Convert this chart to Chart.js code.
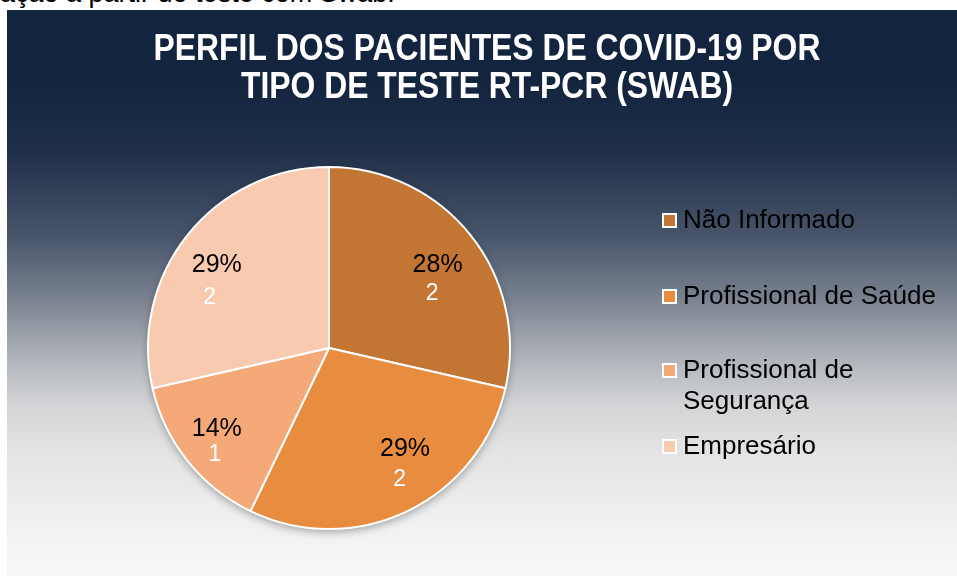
<!DOCTYPE html>
<html>
<head>
<meta charset="utf-8">
<script src="https://cdn.jsdelivr.net/npm/chart.js@4"></script>
<style>
  body { margin: 0; width: 957px; height: 576px; background: #fff; overflow: hidden; position: relative; font-family: "Liberation Sans", Arial, sans-serif; }
  #textoAcima { position: absolute; left: 0; top: -20px; font-size: 27px; line-height: 27px; color: #000; white-space: nowrap; }
  #caixa {
    position: absolute; left: 7px; top: 10px; width: 950px; height: 566px;
    background: linear-gradient(to bottom, #13243f 0px, #13243f 70px, #1f2f48 140px, #47546a 225px, #7b8390 290px, #a5aab1 335px, #d3d4d6 395px, #e3e3e3 440px, #f0f0f0 510px, #f8f8f8 566px);
  }
</style>
</head>
<body>
<div id="textoAcima">ação a partir do teste com Swab.</div>
<div id="caixa"><canvas id="graficoPerfil" width="950" height="566"></canvas></div>
<script>
  // Dados do gráfico
  const titulo = ['PERFIL DOS PACIENTES DE COVID-19 POR', 'TIPO DE TESTE RT-PCR (SWAB)'];
  const categorias = ['Não Informado', 'Profissional de Saúde', 'Profissional de Segurança', 'Empresário'];
  const quantidades = [2, 2, 1, 2];
  const percentuais = ['28%', '29%', '14%', '29%'];
  const cores = ['#c37534', '#e88c40', '#f5a978', '#f8cab0'];

  // Título condensado (estilo Excel)
  const tituloPlugin = {
    id: 'tituloPlugin',
    afterDraw(chart) {
      const ctx = chart.ctx;
      const centroX = chart.width / 2 + 5;
      const linhasY = [40, 78];
      ctx.save();
      ctx.fillStyle = '#ffffff';
      ctx.font = 'bold 36px "Liberation Sans", Arial, sans-serif';
      ctx.textAlign = 'center';
      ctx.textBaseline = 'middle';
      titulo.forEach((linha, i) => {
        ctx.save();
        ctx.translate(centroX, linhasY[i]);
        ctx.scale(0.885, 1);
        ctx.fillText(linha, 0, 0);
        ctx.restore();
      });
      ctx.restore();
    }
  };

  // Sombra atrás da pizza
  const sombraPizza = {
    id: 'sombraPizza',
    beforeDatasetsDraw(chart) {
      const arco = chart.getDatasetMeta(0).data[0];
      if (!arco) return;
      const ctx = chart.ctx;
      ctx.save();
      ctx.shadowColor = 'rgba(0,0,0,0.35)';
      ctx.shadowBlur = 8;
      ctx.shadowOffsetY = 3;
      ctx.fillStyle = '#ffffff';
      ctx.beginPath();
      ctx.arc(arco.x, arco.y, arco.outerRadius, 0, Math.PI * 2);
      ctx.fill();
      ctx.restore();
    }
  };

  // Rótulos dentro das fatias (percentual + valor)
  // posição de cada rótulo em frações do raio, como o Excel colocou
  const posRotulos = [
    { pct: [0.60, -0.46], val: [0.57, -0.30] },
    { pct: [0.42, 0.56], val: [0.39, 0.73] },
    { pct: [-0.62, 0.45], val: [-0.63, 0.59] },
    { pct: [-0.62, -0.46], val: [-0.66, -0.28] }
  ];
  const rotulosFatias = {
    id: 'rotulosFatias',
    afterDatasetsDraw(chart) {
      const ctx = chart.ctx;
      const meta = chart.getDatasetMeta(0);
      ctx.save();
      ctx.textAlign = 'center';
      ctx.textBaseline = 'middle';
      meta.data.forEach((arco, i) => {
        const r = arco.outerRadius;
        const p = posRotulos[i];
        ctx.fillStyle = '#000';
        ctx.font = '25px "Liberation Sans", Arial, sans-serif';
        ctx.fillText(percentuais[i], arco.x + p.pct[0] * r, arco.y + p.pct[1] * r);
        ctx.fillStyle = '#fff';
        ctx.font = '23px "Liberation Sans", Arial, sans-serif';
        ctx.fillText(String(quantidades[i]), arco.x + p.val[0] * r, arco.y + p.val[1] * r);
      });
      ctx.restore();
    }
  };

  // Legenda à direita, com quebra de linha
  const legendaDireita = {
    id: 'legendaDireita',
    afterDraw(chart) {
      const ctx = chart.ctx;
      const posY = [210, 286, 360, 436];
      const xCaixa = 656, xTexto = 676, larguraMax = 270;
      ctx.save();
      ctx.font = '26px "Liberation Sans", Arial, sans-serif';
      ctx.textBaseline = 'middle';
      ctx.textAlign = 'left';
      chart.data.labels.forEach((rotulo, i) => {
        // quebrar o texto
        const palavras = rotulo.split(' ');
        const linhas = [];
        let atual = '';
        palavras.forEach(p => {
          const teste = atual ? atual + ' ' + p : p;
          if (ctx.measureText(teste).width > larguraMax && atual) {
            linhas.push(atual);
            atual = p;
          } else {
            atual = teste;
          }
        });
        linhas.push(atual);
        const y = posY[i];
        ctx.fillStyle = '#fff';
        ctx.fillRect(xCaixa - 1, y - 7, 15, 15);
        ctx.fillStyle = chart.data.datasets[0].backgroundColor[i];
        ctx.fillRect(xCaixa + 1, y - 5, 11, 11);
        ctx.fillStyle = '#000';
        linhas.forEach((linha, j) => {
          ctx.fillText(linha, xTexto, y + 1 + j * 31);
        });
      });
      ctx.restore();
    }
  };

  new Chart(document.getElementById('graficoPerfil').getContext('2d'), {
    type: 'pie',
    data: {
      labels: categorias,
      datasets: [{
        data: quantidades,
        backgroundColor: cores,
        borderColor: '#fff',
        borderWidth: 2
      }]
    },
    options: {
      responsive: false,
      animation: false,
      layout: { padding: { left: 140, right: 446, top: 156, bottom: 46 } },
      plugins: {
        legend: { display: false },
        tooltip: { enabled: false },
        title: { display: false }
      }
    },
    plugins: [sombraPizza, rotulosFatias, legendaDireita, tituloPlugin]
  });
</script>
</body>
</html>
